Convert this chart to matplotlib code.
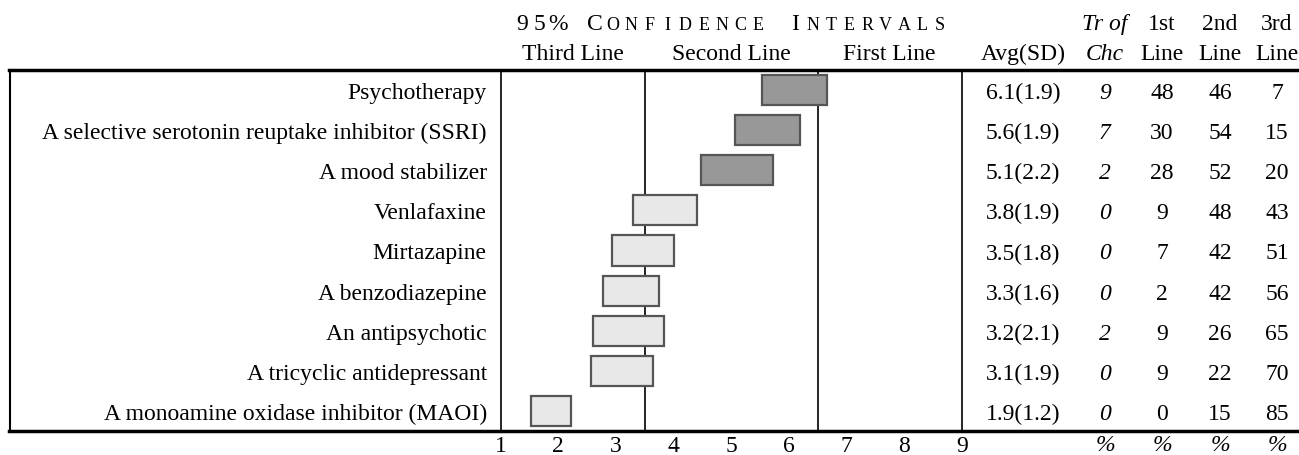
import matplotlib
matplotlib.use("Agg")
import matplotlib.pyplot as plt
from matplotlib.lines import Line2D
from matplotlib import transforms

plt.rcParams["font.family"] = ["Liberation Serif", "DejaVu Serif"]

treatments = [
    "Psychotherapy",
    "A selective serotonin reuptake inhibitor (SSRI)",
    "A mood stabilizer",
    "Venlafaxine",
    "Mirtazapine",
    "A benzodiazepine",
    "An antipsychotic",
    "A tricyclic antidepressant",
    "A monoamine oxidase inhibitor (MAOI)",
]
ci_low = [5.53, 5.07, 4.47, 3.30, 2.94, 2.78, 2.61, 2.56, 1.52]
ci_high = [6.66, 6.19, 5.72, 4.40, 4.00, 3.74, 3.83, 3.65, 2.22]
avg = [6.1, 5.6, 5.1, 3.8, 3.5, 3.3, 3.2, 3.1, 1.9]
sd = [1.9, 1.9, 2.2, 1.9, 1.8, 1.6, 2.1, 1.9, 1.2]
tr_choice = [9, 7, 2, 0, 0, 0, 2, 0, 0]
first_line = [48, 30, 28, 9, 7, 2, 9, 9, 0]
second_line = [46, 54, 52, 48, 42, 42, 26, 22, 15]
third_line = [7, 15, 20, 43, 51, 56, 65, 70, 85]
zone_names = ["Third Line", "Second Line", "First Line"]
zone_edges = [1, 3.5, 6.5, 9]

W, H = 1299, 456
fig = plt.figure(figsize=(W / 100, H / 100), dpi=100)

def fx(px):
    return px / W

def fy(py):
    return 1 - py / H

top, bottom = 71, 432
ax = fig.add_axes([fx(500.7), fy(bottom), fx(961.7) - fx(500.7), fy(top) - fy(bottom)])

rows = list(range(1, len(treatments) + 1))
fs = 17

colors = ["#989898" if a >= 4.5 else "#e8e8e8" for a in avg]
ax.barh(rows, [h - l for l, h in zip(ci_low, ci_high)], left=ci_low, height=0.75,
        color=colors, edgecolor="#555555", linewidth=1.6, zorder=3)
for e in zone_edges[1:-1]:
    ax.axvline(e, color="black", linewidth=1.2, zorder=1)

ax.set_xlim(zone_edges[0], zone_edges[-1])
ax.set_ylim(len(treatments) + 0.5, 0.5)
ax.set_xticks(range(1, 10))
ax.set_yticks(rows, treatments)
ax.tick_params(axis="both", length=0, labelsize=fs)
ax.tick_params(axis="y", pad=10)
ax.tick_params(axis="x", pad=3)
for s in ["top", "bottom"]:
    ax.spines[s].set_visible(False)
for s in ["left", "right"]:
    ax.spines[s].set_linewidth(1.2)

# zone headers
zt = transforms.blended_transform_factory(ax.transData, fig.transFigure)
for name, a, b in zip(zone_names, zone_edges[:-1], zone_edges[1:]):
    ax.text((a + b) / 2, fy(60), name, transform=zt, ha="center", va="baseline", fontsize=fs)

# small caps title, letter spaced
title = "95% CONFIDENCE INTERVALS"
big = {0, 1, 2, 4, 15}
step = 18.2
for k, ch in enumerate(title):
    if ch == " ":
        continue
    fig.text(fx(521.7 + step * k), fy(30), ch, ha="center", va="baseline",
             fontsize=17 if k in big else 13)

# table columns
col_x = [1023, 1105, 1162, 1220, 1277]
tt = transforms.blended_transform_factory(fig.transFigure, ax.transData)
for i, r in enumerate(rows):
    ax.text(fx(col_x[0]), r, f"{avg[i]:.1f}({sd[i]:.1f})", transform=tt,
            ha="center", va="center_baseline", fontsize=fs)
    ax.text(fx(col_x[1]), r, str(tr_choice[i]), transform=tt, ha="center",
            va="center_baseline", fontsize=fs, style="italic")
    for cx, vals in zip(col_x[2:], [first_line, second_line, third_line]):
        ax.text(fx(cx), r, str(vals[i]), transform=tt, ha="center",
                va="center_baseline", fontsize=fs)

fig.text(fx(col_x[0]), fy(60), "Avg(SD)", ha="center", va="baseline", fontsize=fs)
fig.text(fx(col_x[1]), fy(30), "Tr of", ha="center", va="baseline", fontsize=fs, style="italic")
fig.text(fx(col_x[1]), fy(60), "Chc", ha="center", va="baseline", fontsize=fs, style="italic")
for cx, lab in zip(col_x[2:], ["1st", "2nd", "3rd"]):
    fig.text(fx(cx), fy(30), lab, ha="center", va="baseline", fontsize=fs)
    fig.text(fx(cx), fy(60), "Line", ha="center", va="baseline", fontsize=fs)
for cx in col_x[1:]:
    fig.text(fx(cx), fy(451), "%", ha="center", va="baseline", fontsize=fs, style="italic")

# frame lines
fig.add_artist(Line2D([fx(9), fx(W)], [fy(top), fy(top)], color="black", linewidth=2.5))
fig.add_artist(Line2D([fx(9), fx(W)], [fy(bottom), fy(bottom)], color="black", linewidth=2.5))
fig.add_artist(Line2D([fx(10), fx(10)], [fy(top), fy(bottom)], color="black", linewidth=1.5))

fig.savefig("out.png", dpi=100)
